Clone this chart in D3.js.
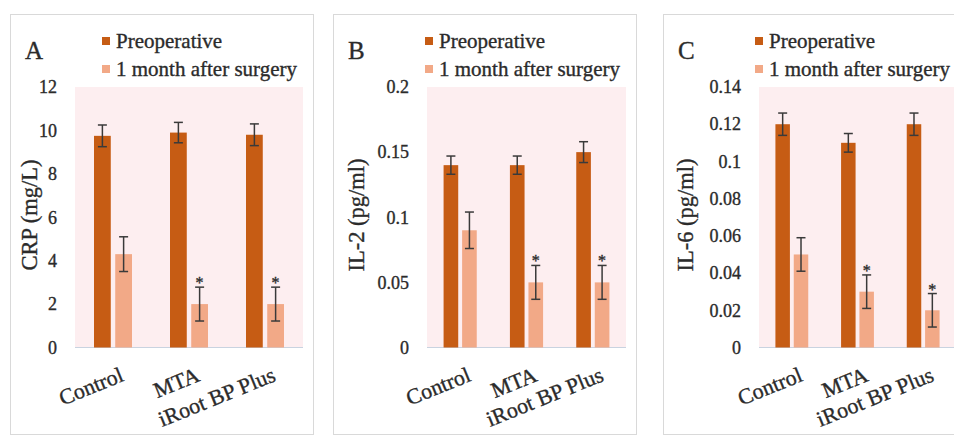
<!DOCTYPE html>
<html>
<head>
<meta charset="utf-8">
<script src="https://cdn.jsdelivr.net/npm/d3@7"></script>
<style>
  body { margin: 0; background: #fff; }
  svg text { font-family: "Liberation Serif", "Times New Roman", serif; fill: #2b2b2b; stroke: #2b2b2b; stroke-width: 0.35px; }
</style>
</head>
<body>
<div id="chart"></div>
<script>
// Categories and series
const groups = ["Control", "MTA", "iRoot BP Plus"];
const series = ["Preoperative", "1 month after surgery"];

// Panel A: CRP (mg/L)
const crpTicks = [0, 2, 4, 6, 8, 10, 12];
const crpPre = [9.75, 9.9, 9.8];
const crpPreErr = [0.5, 0.47, 0.5];
const crpPost = [4.3, 2.0, 2.0];
const crpPostErr = [0.8, 0.78, 0.78];

// Panel B: IL-2 (pg/ml)
const il2Ticks = [0, 0.05, 0.1, 0.15, 0.2];
const il2Pre = [0.14, 0.14, 0.15];
const il2PreErr = [0.007, 0.007, 0.008];
const il2Post = [0.09, 0.05, 0.05];
const il2PostErr = [0.014, 0.013, 0.013];

// Panel C: IL-6 (pg/ml)
const il6Ticks = [0, 0.02, 0.04, 0.06, 0.08, 0.1, 0.12, 0.14];
const il6Pre = [0.12, 0.11, 0.12];
const il6PreErr = [0.006, 0.005, 0.006];
const il6Post = [0.05, 0.03, 0.02];
const il6PostErr = [0.009, 0.009, 0.009];

// significance marks (*) on the post-surgery bars
const significant = [false, true, true];

const colors = ["#c65c14", "#f2a987"];

const width = 954;
const height = 435;

const svg = d3.select("#chart")
  .append("svg")
    .attr("width", width)
    .attr("height", height);

const panels = [
  { letter: "A", title: "CRP (mg/L)", ticks: crpTicks, pre: crpPre, preErr: crpPreErr, post: crpPost, postErr: crpPostErr, left: 10, plotLeft: 65, titleX: 27 },
  { letter: "B", title: "IL-2 (pg/ml)", ticks: il2Ticks, pre: il2Pre, preErr: il2PreErr, post: il2Post, postErr: il2PostErr, left: 333, plotLeft: 94, titleX: 31 },
  { letter: "C", title: "IL-6 (pg/ml)", ticks: il6Ticks, pre: il6Pre, preErr: il6PreErr, post: il6Post, postErr: il6PostErr, left: 663, plotLeft: 96, titleX: 30 }
];

const plotRight = 293;
const plotTop = 87;
const plotBottom = 347.5;

const fmt = d => String(+d.toFixed(2));

panels.forEach(p => {
  const g = svg.append("g")
      .attr("transform", `translate(${p.left},0)`);

  // panel frame
  g.append("rect")
      .attr("x", 0.5).attr("y", 14.5)
      .attr("width", 303).attr("height", 420)
      .attr("fill", "#fff")
      .attr("stroke", "#d9d9d9");

  const x = d3.scaleBand()
      .domain(groups)
      .range([p.plotLeft, plotRight]);

  const xs = d3.scaleBand()
      .domain(series)
      .range([x.bandwidth() * 0.25, x.bandwidth() * 0.75])
      .paddingInner(0.21);

  const y = d3.scaleLinear()
      .domain([0, d3.max(p.ticks)])
      .range([plotBottom, plotTop]);

  // plot area
  g.append("rect")
      .attr("x", p.plotLeft).attr("y", plotTop)
      .attr("width", plotRight - p.plotLeft).attr("height", plotBottom - plotTop)
      .attr("fill", "#fdeef0");

  // y axis
  const yAxis = g.append("g")
      .attr("transform", `translate(${p.plotLeft},0)`)
      .call(d3.axisLeft(y).tickValues(p.ticks).tickSize(0).tickPadding(18).tickFormat(fmt));
  yAxis.select(".domain").remove();
  yAxis.selectAll("text")
      .style("font-size", "18px");

  // x axis line
  g.append("line")
      .attr("x1", p.plotLeft).attr("x2", plotRight)
      .attr("y1", plotBottom).attr("y2", plotBottom)
      .attr("stroke", "#c9d3e0")
      .attr("stroke-width", 1.2);

  // x labels, rotated
  const xAxis = g.append("g")
      .attr("transform", `translate(0,${plotBottom})`)
      .call(d3.axisBottom(x).tickSize(0));
  xAxis.select(".domain").remove();
  xAxis.selectAll("text")
      .attr("x", 0).attr("y", 0).attr("dy", 0)
      .attr("text-anchor", "end")
      .attr("transform", "translate(12,33) rotate(-22)")
      .style("font-size", "22px");

  // bars
  const rows = groups.map((grp, i) => [
    { grp, s: series[0], v: p.pre[i], e: p.preErr[i], sig: false },
    { grp, s: series[1], v: p.post[i], e: p.postErr[i], sig: significant[i] }
  ]).flat();

  const bar = g.append("g").selectAll("g")
    .data(rows)
    .enter().append("g")
      .attr("transform", d => `translate(${x(d.grp) + xs(d.s)},0)`);

  bar.append("rect")
      .attr("x", 0)
      .attr("y", d => y(d.v))
      .attr("width", xs.bandwidth())
      .attr("height", d => y(0) - y(d.v))
      .attr("fill", d => colors[series.indexOf(d.s)]);

  // error bars
  const cx = xs.bandwidth() / 2;
  bar.append("line")
      .attr("x1", cx).attr("x2", cx)
      .attr("y1", d => y(d.v + d.e)).attr("y2", d => y(d.v - d.e))
      .attr("stroke", "#3a3a3a").attr("stroke-width", 1.5);
  bar.append("line")
      .attr("x1", cx - 4.5).attr("x2", cx + 4.5)
      .attr("y1", d => y(d.v + d.e)).attr("y2", d => y(d.v + d.e))
      .attr("stroke", "#3a3a3a").attr("stroke-width", 1.5);
  bar.append("line")
      .attr("x1", cx - 4.5).attr("x2", cx + 4.5)
      .attr("y1", d => y(d.v - d.e)).attr("y2", d => y(d.v - d.e))
      .attr("stroke", "#3a3a3a").attr("stroke-width", 1.5);

  bar.filter(d => d.sig).append("text")
      .attr("x", cx)
      .attr("y", d => y(d.v + d.e) + 1)
      .attr("text-anchor", "middle")
      .style("font-size", "16px")
      .text("*");

  // panel letter
  g.append("text")
      .attr("x", 15).attr("y", 59)
      .style("font-size", "25px")
      .text(p.letter);

  // y axis title
  g.append("text")
      .attr("transform", `translate(${p.titleX},215) rotate(-90)`)
      .attr("text-anchor", "middle")
      .style("font-size", "22.5px")
      .text(p.title);

  // legend
  const leg = g.append("g")
      .attr("transform", "translate(92,0)")
    .selectAll("g")
    .data(series)
    .enter().append("g")
      .attr("transform", (d, i) => `translate(0,${41 + i * 28})`);

  leg.append("rect")
      .attr("x", 0).attr("y", -4)
      .attr("width", 8).attr("height", 8)
      .attr("fill", (d, i) => colors[i]);

  leg.append("text")
      .attr("x", 14).attr("y", 7)
      .style("font-size", "21px")
      .text(d => d);
});
</script>
</body>
</html>
